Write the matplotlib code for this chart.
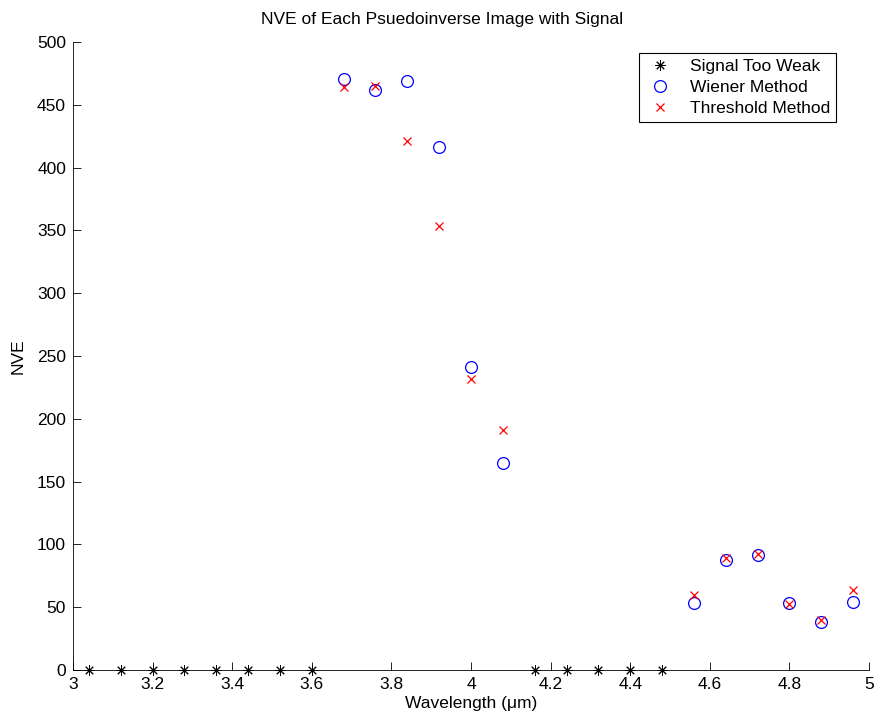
"""NVE of each pseudoinverse image with signal -> out.png"""

import matplotlib
matplotlib.use("Agg")
import matplotlib.pyplot as plt

plt.rcParams["font.family"] = ["Liberation Sans", "DejaVu Sans"]

weak_x = [3.04, 3.12, 3.20, 3.28, 3.36, 3.44, 3.52, 3.60,
          4.16, 4.24, 4.32, 4.40, 4.48]
weak_y = [0] * len(weak_x)

method_x = [3.68, 3.76, 3.84, 3.92, 4.00, 4.08,
            4.56, 4.64, 4.72, 4.80, 4.88, 4.96]
wiener_y = [470.5, 461.5, 469, 416.5, 241, 165,
            53, 87.5, 91.5, 53, 38.5, 54]
thresh_y = [464.5, 465, 421.5, 353.5, 231.5, 191,
            60, 89, 92, 52.5, 40, 63.5]

xticks = [3, 3.2, 3.4, 3.6, 3.8, 4, 4.2, 4.4, 4.6, 4.8, 5]
yticks = list(range(0, 501, 50))

FS = 12.5


def main():
    fig = plt.figure(figsize=(8.77, 7.2), dpi=100)
    ax = fig.add_axes([0.0832, 0.0694, 0.9078, 0.8723])

    ax.plot(weak_x, weak_y, ls="none", marker=(8, 2, 0), ms=7.5, mew=0.7,
            color="black", label="Signal Too Weak", clip_on=False, zorder=3)
    ax.plot(method_x, wiener_y, ls="none", marker="o", ms=8.5, mew=0.9,
            mfc="none", mec="blue", label="Wiener Method", clip_on=False)
    ax.plot(method_x, thresh_y, ls="none", marker="x", ms=6, mew=0.9,
            color="red", label="Threshold Method", clip_on=False)

    ax.set_xlim(3, 5)
    ax.set_ylim(0, 500)
    ax.set_xticks(xticks)
    ax.set_xticklabels([f"{t:g}" for t in xticks])
    ax.set_yticks(yticks)
    ax.tick_params(direction="in", length=6, width=0.6, labelsize=FS,
                   colors="black", pad=5)
    for s in ("top", "right"):
        ax.spines[s].set_visible(False)
    for s in ("left", "bottom"):
        ax.spines[s].set_linewidth(0.6)

    ax.set_title("NVE of Each Psuedoinverse Image with Signal", fontsize=FS,
                 pad=13, x=0.463)
    ax.set_xlabel("Wavelength (\u03bcm)", fontsize=FS, labelpad=3)
    ax.set_ylabel("NVE", fontsize=FS, labelpad=8)

    leg = ax.legend(loc="upper right", bbox_to_anchor=(0.9585, 0.9825),
                    borderaxespad=0, fontsize=FS, fancybox=False,
                    framealpha=1, edgecolor="black", handlelength=1.8,
                    borderpad=0.35, labelspacing=0.32, handletextpad=0.8)
    leg.get_frame().set_linewidth(0.8)

    fig.savefig("out.png", dpi=100)
    print("wrote out.png")


if __name__ == "__main__":
    main()
